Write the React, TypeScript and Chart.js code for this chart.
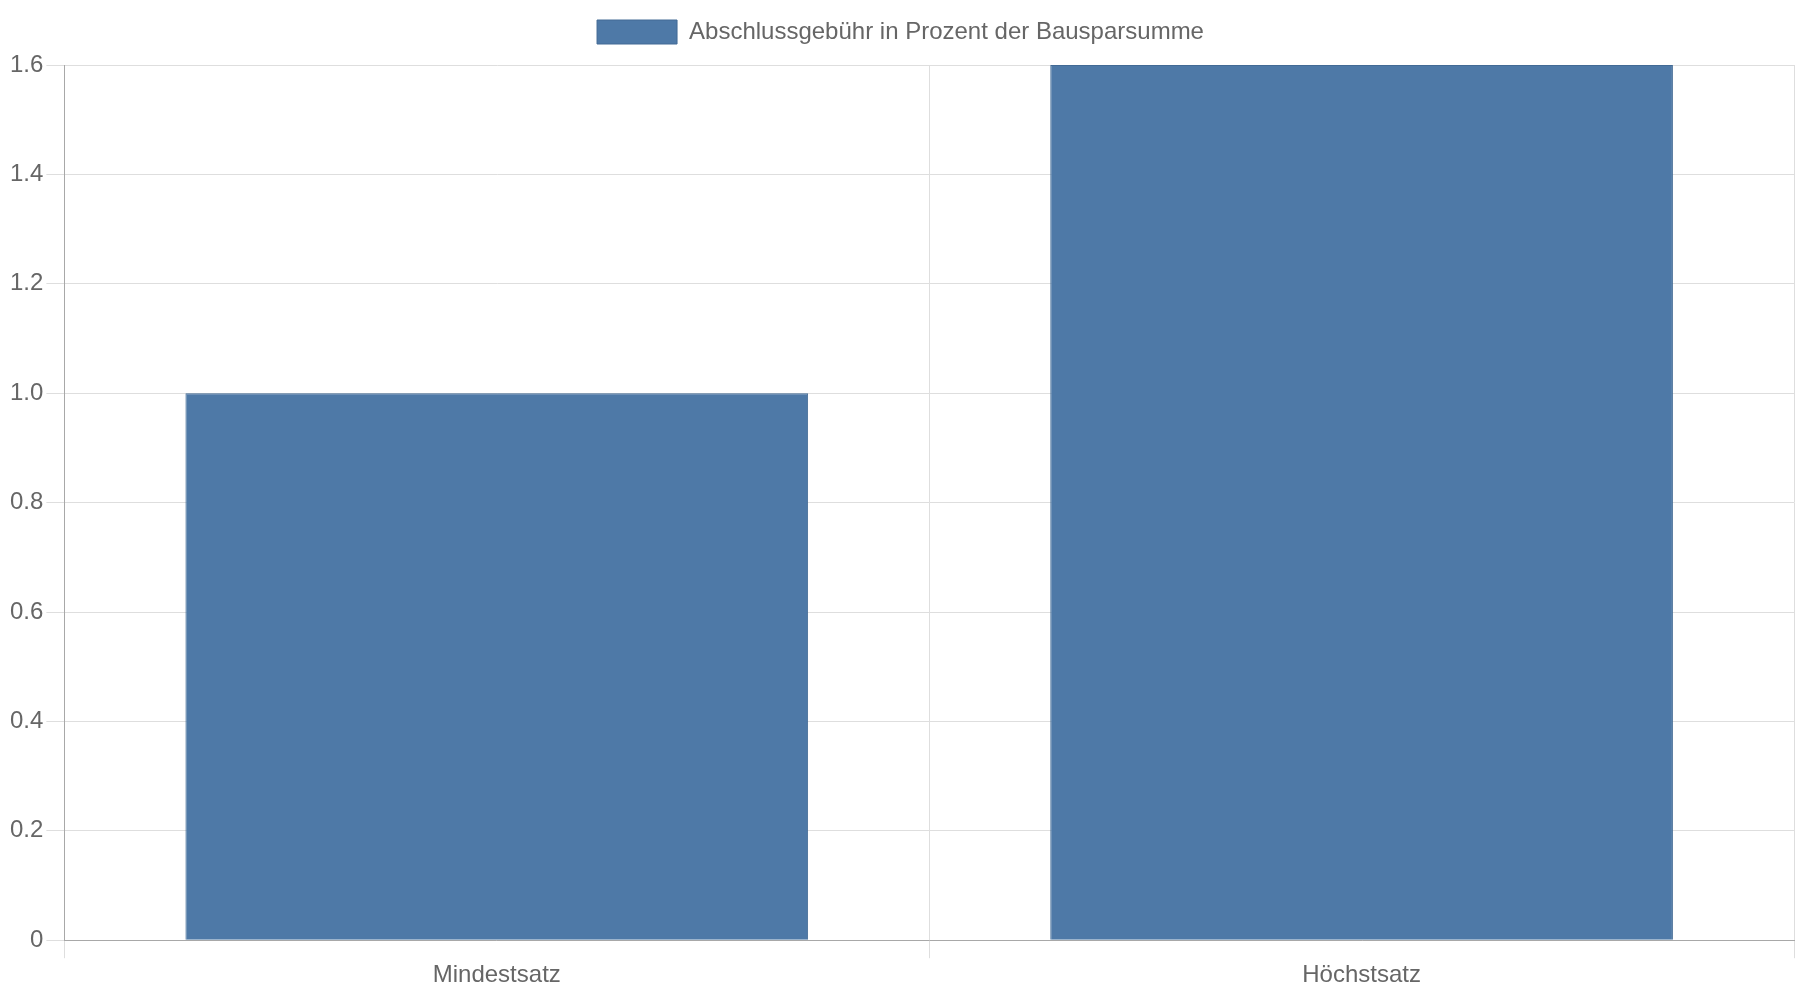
import { useEffect, useRef } from "react";
import { Chart, ChartItem } from "chart.js/auto";

const categories = ["Mindestsatz", "Höchstsatz"];
const seriesLabel = "Abschlussgebühr in Prozent der Bausparsumme";
const feeValues = [1.0, 1.6];

const FONT = "'Liberation Sans', Arial, sans-serif";

// adds a little room between the legend and the plot area
const legendSpacer = {
  id: "legendSpacer",
  beforeInit(chart: any) {
    const origFit = chart.legend.fit;
    chart.legend.fit = function () {
      origFit.bind(chart.legend)();
      this.height += 11;
    };
  },
};

const App = () => {
  const chartRef = useRef<HTMLCanvasElement>(null);

  useEffect(() => {
    document.body.style.margin = "0";
    if (!chartRef.current) return;
    const ctx = chartRef.current.getContext("2d");

    const myChart = new Chart(ctx as ChartItem, {
      type: "bar",
      data: {
        labels: categories,
        datasets: [
          {
            label: seriesLabel,
            data: feeValues,
            backgroundColor: "#4e79a7",
            borderColor: "#426a95",
            borderWidth: 1,
          },
        ],
      },
      options: {
        responsive: true,
        maintainAspectRatio: false,
        animation: false,
        layout: { padding: { left: 7, right: 6, top: 10, bottom: 7 } },
        plugins: {
          legend: {
            labels: {
              boxWidth: 80,
              boxHeight: 24,
              color: "#666",
              font: { family: FONT, size: 24 },
            },
          },
          tooltip: { enabled: false },
        },
        scales: {
          x: {
            grid: { color: "#dedede", tickLength: 18 },
            border: { color: "#a8a8a8" },
            ticks: {
              color: "#666",
              font: { family: FONT, size: 24 },
            },
          },
          y: {
            min: 0,
            max: 1.6,
            grid: { color: "#dedede", tickLength: 18 },
            border: { color: "#a8a8a8" },
            ticks: {
              stepSize: 0.2,
              color: "#666",
              padding: 3,
              font: { family: FONT, size: 24 },
              callback: (v) => (Number(v) === 0 ? "0" : Number(v).toFixed(1)),
            },
          },
        },
      },
      plugins: [legendSpacer],
    });

    return () => {
      myChart.destroy();
    };
  }, []);

  return (
    <div style={{ width: "1800px", height: "1000px", position: "relative" }}>
      <canvas ref={chartRef} />
    </div>
  );
};

export default App;
